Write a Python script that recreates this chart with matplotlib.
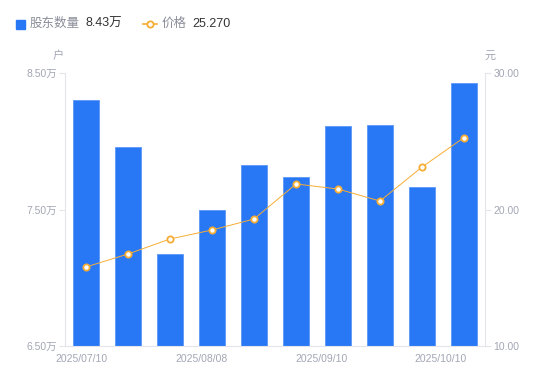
import numpy as np
import matplotlib
matplotlib.use('Agg')
import matplotlib.pyplot as plt
from matplotlib.lines import Line2D

plt.rcParams['font.family'] = ['Liberation Sans', 'Noto Sans CJK SC', 'DejaVu Sans']

# data
holders = [8.302, 7.958, 7.174, 7.496, 7.826, 7.738, 8.112, 8.119, 7.665, 8.427]   # 万户
price = [15.79, 16.74, 17.84, 18.50, 19.30, 21.87, 21.50, 20.62, 23.11, 25.27]
date_labels = ['2025/07/10', '2025/08/08', '2025/09/10', '2025/10/10']
left_ticks = [6.5, 7.5, 8.5]
right_ticks = [10, 20, 30]

blue = '#2878f6'
orange = '#f6ad35'
tick_col = '#a3a6b4'
axis_col = '#e3e5ea'

fig = plt.figure(figsize=(5.5, 3.81), dpi=100)
ax1 = fig.add_axes([65/550, 1-346/381, 420/550, 273/381])
ax2 = ax1.twinx()

x = np.arange(len(holders))
ax1.bar(x, holders, width=0.6, color=blue, edgecolor='#5a98f8', linewidth=0.6, zorder=2)
ax1.set_ylim(6.5, 8.5)
ax1.set_xlim(-0.5, len(holders) - 0.5)
ax1.set_yticks(left_ticks)
ax1.set_yticklabels(['%.2f万' % v for v in left_ticks])

ax2.plot(x, price, color=orange, linewidth=0.7, marker='o', markersize=4.5,
         markerfacecolor='white', markeredgecolor=orange, markeredgewidth=1.3, zorder=3)
ax2.set_ylim(10, 30)
ax2.set_yticks(right_ticks)
ax2.set_yticklabels(['%.2f' % v for v in right_ticks])

# date labels spread evenly along the axis
ax1.set_xticks(np.linspace(-0.1, 8.45, len(date_labels)))
ax1.set_xticklabels(date_labels)

for ax in (ax1, ax2):
    for s in ax.spines.values():
        s.set_visible(False)
    ax.tick_params(colors=tick_col, labelsize=7.5, length=4, width=0.8, pad=2)
ax1.spines['left'].set_visible(True)
ax1.spines['left'].set_color(axis_col)
ax1.spines['bottom'].set_visible(True)
ax1.spines['bottom'].set_color(axis_col)
ax2.spines['right'].set_visible(True)
ax2.spines['right'].set_color(axis_col)
ax1.tick_params(axis='x', length=0, pad=6)
ax1.tick_params(axis='y', color=axis_col, labelcolor=tick_col)
ax2.tick_params(axis='y', color=axis_col, labelcolor=tick_col)

# unit labels
fig.text(58/550, 1-56/381, '户', color=tick_col, fontsize=8, ha='center', va='center')
fig.text(490/550, 1-56/381, '元', color=tick_col, fontsize=8, ha='center', va='center')

# legend-ish header
fig.patches.append(plt.Rectangle((16/550, 1-29/381), 9/550, 9/381, transform=fig.transFigure,
                                 color=blue, figure=fig))
fig.text(30/550, 1-24/381, '股东数量', color='#8a8d99', fontsize=9, va='center')
fig.text(85/550, 1-24/381, '%.2f万' % holders[-1], color='#333333', fontsize=9, va='center')
fig.lines.append(Line2D([143/550, 157/550], [1-24/381, 1-24/381], transform=fig.transFigure,
                        color=orange, linewidth=1.2, figure=fig))
fig.lines.append(Line2D([150/550], [1-24/381], transform=fig.transFigure, color=orange,
                        marker='o', markersize=4.5, markerfacecolor='white',
                        markeredgewidth=1.3, figure=fig))
fig.text(162/550, 1-24/381, '价格', color='#8a8d99', fontsize=9, va='center')
fig.text(192/550, 1-24/381, '%.3f' % price[-1], color='#333333', fontsize=9, va='center')

fig.savefig('out.png', dpi=100)
plt.close()
